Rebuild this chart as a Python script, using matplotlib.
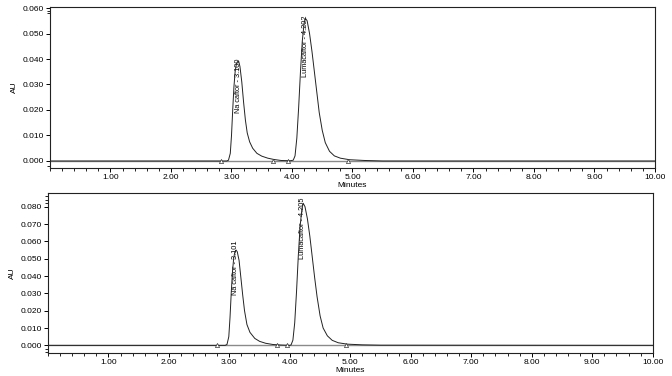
"""Two HPLC chromatograms (Ivacaftor / Lumacaftor), stacked."""
import matplotlib
matplotlib.use("Agg")
import matplotlib.pyplot as plt
from matplotlib.ticker import MultipleLocator, FixedLocator

plt.rcParams['font.family'] = ['Liberation Sans', 'DejaVu Sans']

# --- top chromatogram (minutes, AU)
top_t = [0.0, 2.92, 2.95, 2.98, 3.00, 3.02, 3.04, 3.06, 3.08, 3.10, 3.12, 3.14,
         3.17, 3.20, 3.23, 3.26, 3.30, 3.35, 3.42, 3.50, 3.60, 3.70, 3.82, 3.97,
         4.02, 4.05, 4.08, 4.11, 4.14, 4.17, 4.20, 4.22, 4.25, 4.29, 4.33, 4.37,
         4.41, 4.45, 4.50, 4.55, 4.62, 4.70, 4.80, 4.95, 5.20, 5.50, 10.0]
top_au = [0.0, 0.0, 0.0003, 0.003, 0.010, 0.020, 0.029, 0.035, 0.038, 0.039, 0.039, 0.037,
          0.031, 0.023, 0.016, 0.011, 0.0075, 0.005, 0.003, 0.0019, 0.0011, 0.0006, 0.0002, 0.0001,
          0.0003, 0.002, 0.009, 0.021, 0.035, 0.047, 0.054, 0.056, 0.055, 0.050, 0.043, 0.035,
          0.027, 0.019, 0.012, 0.0072, 0.0038, 0.002, 0.0011, 0.0005, 0.0002, 0.0, 0.0]

# --- bottom chromatogram
bot_t = [0.0, 2.93, 2.96, 2.99, 3.01, 3.03, 3.05, 3.07, 3.09, 3.11, 3.13, 3.16,
         3.19, 3.22, 3.25, 3.29, 3.34, 3.42, 3.50, 3.60, 3.72, 3.85, 4.00, 4.02,
         4.05, 4.08, 4.11, 4.14, 4.17, 4.20, 4.22, 4.25, 4.29, 4.33, 4.37, 4.41,
         4.45, 4.50, 4.55, 4.62, 4.70, 4.80, 4.95, 5.20, 5.50, 10.0]
bot_au = [0.0, 0.0, 0.0005, 0.005, 0.016, 0.030, 0.042, 0.050, 0.054, 0.055, 0.054, 0.049,
          0.039, 0.029, 0.020, 0.012, 0.0075, 0.004, 0.0023, 0.0012, 0.0005, 0.0002, 0.0, 0.0003,
          0.003, 0.013, 0.031, 0.052, 0.069, 0.079, 0.082, 0.080, 0.073, 0.063, 0.051, 0.039,
          0.028, 0.017, 0.010, 0.0055, 0.0029, 0.0015, 0.0007, 0.0003, 0.0001, 0.0]

# peak labels: (text, time, AU where the label starts)
top_labels = [("Na caftor - 3.100", 3.11, 0.019), ("Lumacaftor - 4.202", 4.22, 0.033)]
bot_labels = [("Na caftor - 3.101", 3.10, 0.029), ("Lumacaftor - 4.205", 4.21, 0.050)]

# integration start/end markers on the baseline
top_marks = [2.82, 3.68, 3.93, 4.93]
bot_marks = [2.80, 3.78, 3.96, 4.93]

fig = plt.figure(figsize=(6.72, 3.76), dpi=100)
ax1 = fig.add_axes([0.0744, 0.5532, 0.9003, 0.4282])
ax2 = fig.add_axes([0.0714, 0.0612, 0.8999, 0.4255])

panels = [
    (ax1, top_t, top_au, top_labels, top_marks, (-0.00275, 0.0604), 0.060,
     [-0.002, 0.058, 0.059]),
    (ax2, bot_t, bot_au, bot_labels, bot_marks, (-0.0044, 0.0879), 0.080,
     [-0.002, -0.004, 0.082, 0.084, 0.086]),
]

for ax, t, au, labels, marks, ylim, ymax_tick, yminor in panels:
    ax.axhline(0, color='#8a8a8a', lw=1.0, zorder=1)
    ax.plot(t, au, color='#222222', lw=0.7, zorder=3)
    ax.plot(marks, [0] * len(marks), linestyle='none', marker='^', ms=3,
            mfc='white', mec='#333333', mew=0.5, zorder=4)
    for txt, x, y in labels:
        ax.text(x, y, txt, rotation=90, ha='center', va='bottom', fontsize=5.3,
                family=['Liberation Sans Narrow', 'Liberation Sans', 'DejaVu Sans'],
                bbox=dict(facecolor='white', edgecolor='none', pad=0.2), zorder=2)

    ax.set_xlim(0, 10)
    ax.set_ylim(*ylim)
    ax.xaxis.set_major_locator(FixedLocator(range(1, 11)))
    ax.xaxis.set_minor_locator(MultipleLocator(0.2))
    ax.set_xticklabels([f"{v:.2f}" for v in range(1, 11)])
    yt = [round(v * 0.01, 3) for v in range(int(round(ymax_tick / 0.01)) + 1)]
    ax.set_yticks(yt)
    ax.set_yticklabels([f"{v:.3f}" for v in yt])
    ax.yaxis.set_minor_locator(FixedLocator(yminor))
    ax.tick_params(axis='both', which='major', direction='out', length=3,
                   width=0.7, labelsize=6, pad=1.5)
    ax.tick_params(axis='both', which='minor', direction='out', length=2, width=0.6)
    for s in ax.spines.values():
        s.set_linewidth(0.8)
        s.set_color('#222222')
    ax.set_xlabel("Minutes", fontsize=6, labelpad=0.5)
    ax.set_ylabel("AU", fontsize=6, labelpad=3)

fig.savefig("out.png", dpi=100)
